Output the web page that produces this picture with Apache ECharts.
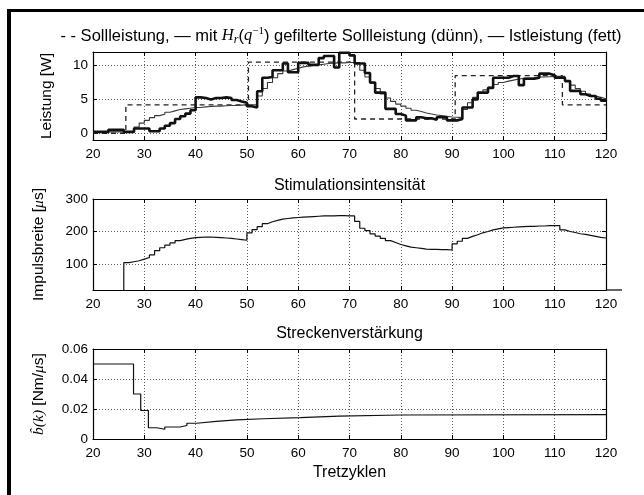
<!DOCTYPE html>
<html><head><meta charset="utf-8">
<script src="https://cdn.jsdelivr.net/npm/echarts@6/dist/echarts.min.js"></script>
<style>html,body{margin:0;padding:0;background:#fff}#c{width:644px;height:495px}</style>
</head><body><div id="c"></div>
<script>
// ---- data ----
const cycles = [20,21,22,23,24,25,26,27,28,29,30,31,32,33,34,35,36,37,38,39,40,41,42,43,44,45,46,47,48,49,
50,51,52,53,54,55,56,57,58,59,60,61,62,63,64,65,66,67,68,69,70,71,72,73,74,75,76,77,78,79,
80,81,82,83,84,85,86,87,88,89,90,91,92,93,94,95,96,97,98,99,100,101,102,103,104,105,106,107,108,109,
110,111,112,113,114,115,116,117,118,119,120];
const istLeistung = [0.2,0.2,0.2,0.5,0.5,0.5,0.2,0.2,0.7,0.7,
0.7,0.3,0.3,0.7,1.1,1.5,2.1,2.5,2.9,3.4,
5.3,5.2,5.0,5.2,5.2,5.3,5.2,4.9,4.7,4.5,
4.0,3.8,6.2,8.2,8.3,9.3,9.3,10.3,9.0,9.0,
10.4,10.4,10.1,10.1,11.1,11.4,11.4,9.7,11.9,11.9,
11.5,10.3,10.3,8.9,7.5,6.0,6.0,3.6,3.6,2.85,
2.6,1.9,1.9,2.35,2.2,2.2,2.0,2.35,2.35,1.9,
1.9,2.1,3.8,3.8,5.0,6.0,6.0,6.7,8.2,8.2,
8.2,8.45,8.45,7.1,8.05,8.05,8.2,8.8,8.8,8.55,
8.2,8.2,7.7,6.25,6.25,5.75,5.5,5.5,5.1,4.8,
4.8];
const gefiltert = [0.2,0.2,0.2,0.2,0.2,0.2,0.2,0.2,0.9,1.5,
1.9,2.3,2.6,2.8,3.1,3.3,3.5,3.6,3.7,3.8,
3.8,3.9,3.95,4.0,4.0,4.05,4.1,4.1,4.15,4.2,
4.2,4.2,5.5,6.6,7.5,8.2,8.8,9.2,9.4,9.6,
9.8,9.9,10.0,10.1,10.2,10.3,10.35,10.4,10.4,10.45,
10.45,10.45,9.3,8.3,7.4,6.6,5.8,5.2,4.7,4.3,
4.0,3.7,3.4,3.2,3.0,2.85,2.7,2.6,2.5,2.4,
2.35,2.3,3.5,4.5,5.3,5.9,6.4,6.8,7.2,7.5,
7.7,7.85,8.0,8.1,8.15,8.2,8.3,8.3,8.35,8.4,
8.4,8.4,7.7,7.1,6.6,6.2,5.8,5.5,5.3,5.1,
4.9];
const sollX = [20, 26.4, 50.3, 71, 90.6, 111.5, 120];
const sollY = [0, 4.2, 10.5, 2.1, 8.5, 4.2, 4.2];
const impulsbreite = [0,0,0,0,0,0,104,107,110,115,
120,128,141,150,158,165,172,176,179,181,
182,183,183,182,181,180,179,177,175,173,
196,206,215,224,230,234,238,240,242,243,
244,245,246,247,248,248,248,249,249,248,
248,231,210,203,193,186,179,172,166,160,
156,152,150,148,146,145,145,144,144,143,
162,170,179,185,190,196,200,205,208,211,
212,213,214,215,216,216,217,217,218,218,
218,205,200,197,193,191,188,185,182,180,
178];
const bhatX = [20, 27.9, 29.3, 30.8, 32.4, 34, 37, 38.3, 40.2, 44, 48, 53.2, 60.4, 68, 80, 120];
const bhatY = [0.05, 0.03, 0.019, 0.0075, 0.0065, 0.008, 0.009, 0.0105, 0.0118, 0.0128, 0.0135, 0.0143, 0.0153, 0.016, 0.0163, 0.0163];
const xTicks = [20,30,40,50,60,70,80,90,100,110,120];
const yTicks1 = [0,5,10];
const yTicks2 = [100,200,300];
const yTicks3 = [0,0.02,0.04,0.06];

// ---- chart ----
const FONT = 'Liberation Sans, Arial, Helvetica, sans-serif';
const SERIF = 'Liberation Serif, DejaVu Serif, serif';
const chart = echarts.init(document.getElementById('c'), null, {renderer:'canvas'});
const grids = [
  {left:93, width:513, top:52, height:88},
  {left:93, width:513, top:199, height:91},
  {left:93, width:513, top:349, height:90}
].map(g => Object.assign({outerBoundsMode:'none', containLabel:false}, g));

const gridLine = {show:true, lineStyle:{type:[1,2], color:'#333', width:0.8}};
function xAx(gi, pos, main){
  return {type:'value', gridIndex:gi, min:20, max:120, interval:10, position:pos,
    axisLine:{show:true, onZero:false, lineStyle:{color:'#000', width:1.2}},
    axisTick:{show:true, inside:true, length:4, lineStyle:{color:'#000', width:1}},
    axisLabel:{show:main, color:'#000', fontSize:13.5, fontFamily:FONT, margin:7, showMinLabel:true, showMaxLabel:true},
    splitLine: main ? gridLine : {show:false}};
}
function yAx(gi, pos, main, min, max, ticks, fmt, name, gap, rich){
  return {type:'value', gridIndex:gi, min:min, max:max, position:pos,
    axisLine:{show:true, onZero:false, lineStyle:{color:'#000', width:1.2}},
    axisTick:{show:true, inside:true, length:4, customValues:ticks, lineStyle:{color:'#000', width:1}},
    axisLabel:{show:main, customValues:ticks, color:'#000', fontSize:13.5, fontFamily:FONT, margin:5, formatter:fmt},
    splitLine: main ? gridLine : {show:false},
    name: main ? name : '', nameLocation:'middle', nameGap:gap, nameRotate:90,
    nameTextStyle:{color:'#000', fontSize:15.5, fontFamily:FONT, rich:rich}};
}
const nameRich = {
  n:{fontSize:15.5, fontFamily:FONT, color:'#000'},
  it:{fontSize:15.5, fontFamily:SERIF, fontStyle:'italic', color:'#000'}
};
const fmt3 = v => (v === 0 ? '0' : v.toFixed(2));

const option = {
  animation:false,
  backgroundColor:'#fff',
  grid: grids,
  xAxis:[xAx(0,'bottom',true), xAx(0,'top',false), xAx(1,'bottom',true), xAx(1,'top',false), xAx(2,'bottom',true), xAx(2,'top',false)],
  yAxis:[
    yAx(0,'left',true,-1,12,yTicks1,v=>String(v),'{n|Leistung [W]}',38,nameRich),
    yAx(0,'right',false,-1,12,yTicks1),
    yAx(1,'left',true,20,300,yTicks2,v=>String(v),'{n|Impulsbreite [}{it|μ}{n|s]}',46,nameRich),
    yAx(1,'right',false,20,300,yTicks2),
    yAx(2,'left',true,0,0.06,yTicks3,fmt3,'{it|b\u0302(k)}{n| [Nm/}{it|μ}{n|s]}',46,nameRich),
    yAx(2,'right',false,0,0.06,yTicks3)
  ],
  series:[
    {name:'Sollleistung', type:'line', xAxisIndex:0, yAxisIndex:0, step:'end', symbol:'none',
     data: sollX.map((x,i)=>[x, sollY[i]]), lineStyle:{color:'#222', width:1.3, type:[5,4]}, z:2},
    {name:'gefilterte Sollleistung', type:'line', xAxisIndex:0, yAxisIndex:0, step:'end', symbol:'none',
     data: cycles.map((k,i)=>[k, gefiltert[i]]), lineStyle:{color:'#3a3a3a', width:1.1}, z:3},
    {name:'Istleistung', type:'line', xAxisIndex:0, yAxisIndex:0, step:'end', symbol:'none',
     data: cycles.map((k,i)=>[k, istLeistung[i]]), lineStyle:{color:'#111', width:2.6}, z:4},
    {name:'Impulsbreite', type:'line', xAxisIndex:2, yAxisIndex:2, step:'end', symbol:'none', clip:true,
     data: cycles.map((k,i)=>[k, impulsbreite[i]]), lineStyle:{color:'#111', width:1.2}},
    {name:'bhat', type:'line', xAxisIndex:4, yAxisIndex:4, step:'end', symbol:'none',
     data: bhatX.map((x,i)=>[x, bhatY[i]]), lineStyle:{color:'#111', width:1.2}}
  ],
  graphic:[
    {type:'rect', shape:{x:7, y:9, width:637, height:3}, style:{fill:'#000'}, silent:true},
    {type:'rect', shape:{x:7, y:9, width:4, height:486}, style:{fill:'#000'}, silent:true},
    {type:'line', shape:{x1:606, y1:290, x2:622, y2:290}, style:{stroke:'#000', lineWidth:1.2}, silent:true},
    {type:'text', x:341, y:36, style:{
      text:'{n|- - Sollleistung, — mit }{it|H}{sub|r}{n|(}{it|q}{sup|−1}{n|) gefilterte Sollleistung (dünn), — Istleistung (fett)}',
      textAlign:'center', textVerticalAlign:'middle', fill:'#000',
      rich:{
        n:{fontSize:16.5, fontFamily:FONT, fill:'#000', color:'#000'},
        it:{fontSize:16.5, fontFamily:SERIF, fontStyle:'italic', fill:'#000', color:'#000'},
        sub:{fontSize:12, fontFamily:SERIF, fontStyle:'italic', fill:'#000', color:'#000', padding:[8,0,0,0]},
        sup:{fontSize:11, fontFamily:SERIF, fill:'#000', color:'#000', padding:[0,0,10,0]}
      }}},
    {type:'text', x:349.5, y:186, style:{text:'Stimulationsintensität', fontSize:16, fontFamily:FONT, fill:'#000', textAlign:'center', textVerticalAlign:'middle'}},
    {type:'text', x:349.5, y:334, style:{text:'Streckenverstärkung', fontSize:16, fontFamily:FONT, fill:'#000', textAlign:'center', textVerticalAlign:'middle'}},
    {type:'text', x:349.5, y:473, style:{text:'Tretzyklen', fontSize:16, fontFamily:FONT, fill:'#000', textAlign:'center', textVerticalAlign:'middle'}}
  ]
};
chart.setOption(option);
</script></body></html>
